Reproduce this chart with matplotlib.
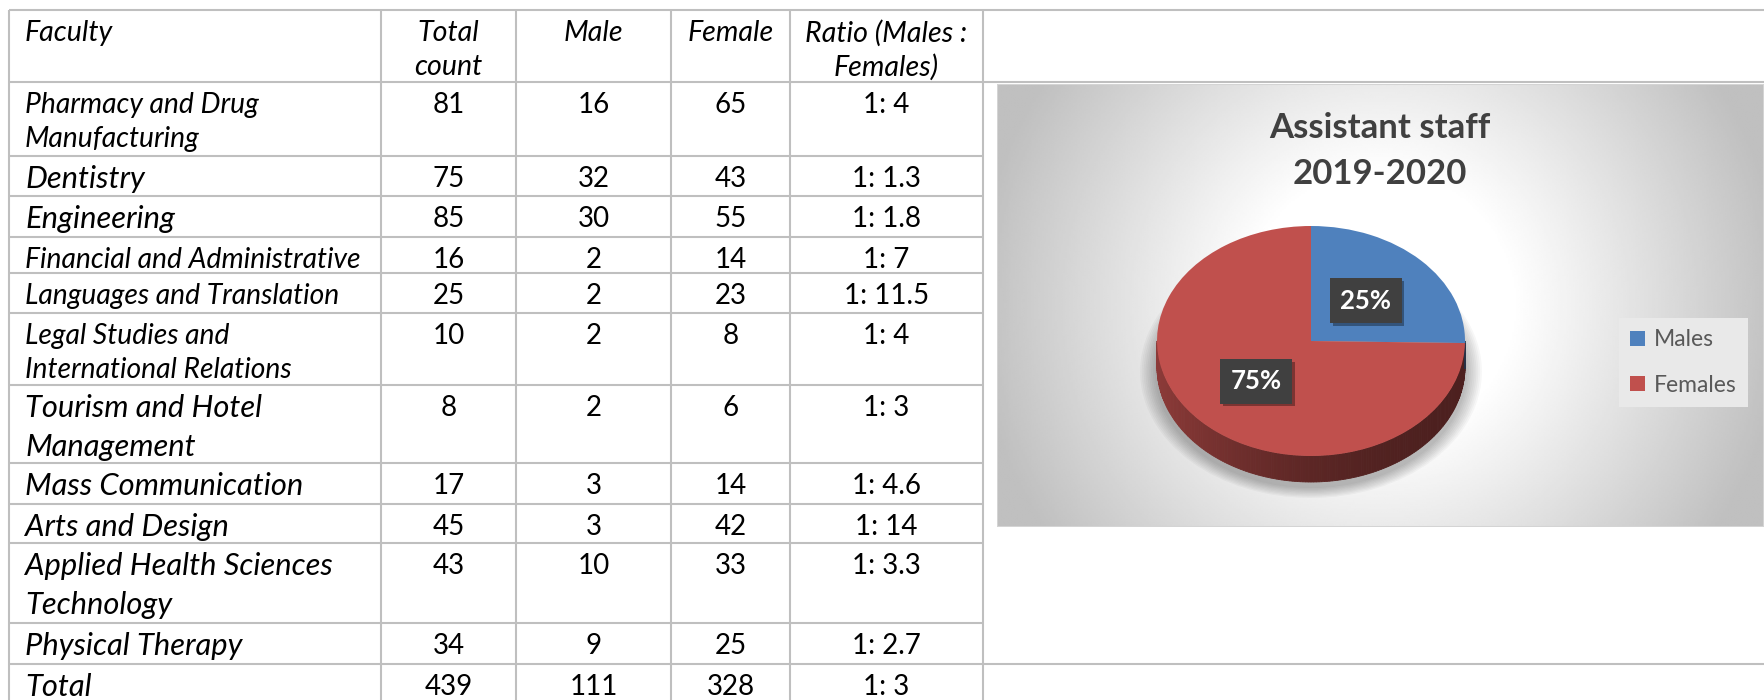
import matplotlib

matplotlib.use("Agg")
import matplotlib.patheffects as pe
import matplotlib.pyplot as plt
import numpy as np
from matplotlib.colors import to_rgb
from matplotlib.patches import Ellipse, Polygon, Rectangle

# table data
headers = ["Faculty", "Total\ncount", "Male", "Female", "Ratio (Males :\nFemales)"]
faculties = [
    "Pharmacy and Drug\nManufacturing",
    "Dentistry",
    "Engineering",
    "Financial and Administrative",
    "Languages and Translation",
    "Legal Studies and\nInternational Relations",
    "Tourism and Hotel\nManagement",
    "Mass Communication",
    "Arts and Design",
    "Applied Health Sciences\nTechnology",
    "Physical Therapy",
    "Total",
]
total_count = [81, 75, 85, 16, 25, 10, 8, 17, 45, 43, 34, 439]
male = [16, 32, 30, 2, 2, 2, 2, 3, 3, 10, 9, 111]
female = [65, 43, 55, 14, 23, 8, 6, 14, 42, 33, 25, 328]
ratio = ["1: 4", "1: 1.3", "1: 1.8", "1: 7", "1: 11.5", "1: 4", "1: 3",
         "1: 4.6", "1: 14", "1: 3.3", "1: 2.7", "1: 3"]

# pie data
pie_labels = ["Males", "Females"]
pie_values = [male[-1], female[-1]]
title_lines = ["Assistant staff", "2019-2020"]

W, H = 1764, 700
col_edges = [9, 381, 516, 671, 790, 983]
row_edges = [10, 82, 156, 196, 237, 273, 313, 385, 463, 504, 543, 623, 664, 706]
small, large = 20.3, 22.2
head_size, num_size = 20.6, 20
label_sizes = [small, large, large, small, small, small, large, large, large, large, large, large]
GRID = "#bfbfbf"
BLUE, RED = "#4f81bd", "#c0504d"

plt.rcParams["font.family"] = ["Lato", "DejaVu Sans"]

fig = plt.figure(figsize=(W / 100, H / 100), dpi=100)
ax = fig.add_axes([0, 0, 1, 1])
ax.set_xlim(0, W)
ax.set_ylim(H, 0)
ax.axis("off")

# grid
for y in row_edges[:-1]:
    right = W if y in (row_edges[0], row_edges[1], row_edges[-2]) else col_edges[-1]
    ax.hlines(y, col_edges[0], right, color=GRID, lw=1.5)
ax.vlines(col_edges, row_edges[0], H, color=GRID, lw=1.5)

centers = [(col_edges[i] + col_edges[i + 1]) / 2 for i in range(1, 5)]


def put_lines(x, top, text, size, spacing, ha="center", style="normal"):
    for i, line in enumerate(text.split("\n")):
        ax.text(x, top + 23 + i * spacing, line, ha=ha, va="center",
                fontsize=size, style=style, color="black")


put_lines(25, row_edges[0], headers[0], head_size, 34, ha="left", style="italic")
for x, head in zip(centers, headers[1:]):
    put_lines(x, row_edges[0], head, head_size, 34, style="italic")

for i, name in enumerate(faculties):
    top = row_edges[i + 1]
    spacing = 39 if label_sizes[i] == large else 33.5
    put_lines(25, top, name, label_sizes[i], spacing, ha="left", style="italic")
    for x, value in zip(centers, [total_count[i], male[i], female[i], ratio[i]]):
        put_lines(x, top, str(value), num_size, spacing)

# chart area with radial gradient
cx0, cy0, cx1, cy1 = 997, 84, W, 527
chart_ax = fig.add_axes([cx0 / W, 1 - cy1 / H, (cx1 - cx0) / W, (cy1 - cy0) / H], zorder=1)
gx = np.linspace(cx0, cx1, 400)
gy = np.linspace(cy0, cy1, 240)
X, Y = np.meshgrid(gx, gy)
r = np.hypot(X - 1380, Y - 305) / np.hypot(383, 222)
shade = 1 - 0.25 * np.clip((r - 0.3) / 0.62, 0, 1)
chart_ax.imshow(shade, extent=[cx0, cx1, cy1, cy0], cmap="gray", vmin=0, vmax=1,
                aspect="auto", interpolation="bilinear")
chart_ax.set_xlim(cx0, cx1)
chart_ax.set_ylim(cy1, cy0)
chart_ax.axis("off")
chart_ax.add_patch(Rectangle((cx0, cy0), cx1 - cx0, cy1 - cy0, fill=False, ec="#d4d4d4", lw=1.5))
for i, line in enumerate(title_lines):
    chart_ax.text(1380, 128 + i * 46, line, ha="center", va="center", fontsize=25,
                  fontweight="bold", color="#404040")

# 3d-looking pie
cx, cy, a, b, depth = 1311, 341, 154, 115, 26
L = 1.5
pax = fig.add_axes([(cx - a * L) / W, 1 - (cy + b * L) / H, 2 * a * L / W, 2 * b * L / H], zorder=2)
wedges, texts, autotexts = pax.pie(
    pie_values,
    colors=[BLUE, RED],
    startangle=90,
    counterclock=False,
    autopct="%1.0f%%",
    pctdistance=0.5,
    wedgeprops=dict(linewidth=0, zorder=3),
    textprops=dict(color="white", fontsize=18.5, fontweight="bold"),
)
pax.set_aspect("auto")
pax.set_xlim(-L, L)
pax.set_ylim(-L, L)
pax.axis("off")

d = depth / b
for k in range(9):
    grow = 0.11 - k * 0.012
    pax.add_patch(Ellipse((0, -d - 0.04), 2 * (1 + grow), 2 * (1 + grow * 0.9),
                          fc="black", alpha=0.03, lw=0, zorder=1))

angles = np.linspace(180, 360, 181)
for t0, t1 in zip(angles[:-1], angles[1:]):
    mid = (t0 + t1) / 2
    w = next(w for w in wedges if (mid - w.theta1) % 360 <= (w.theta2 - w.theta1))
    base = np.array(to_rgb(w.get_facecolor()))
    u = (np.cos(np.radians(mid)) + 1) / 2
    col = base * (0.40 + 0.33 * (1 - u) ** 2)
    c0, s0 = np.cos(np.radians(t0)), np.sin(np.radians(t0))
    c1, s1 = np.cos(np.radians(t1)), np.sin(np.radians(t1))
    pax.add_patch(Polygon([(c0, s0), (c1, s1), (c1, s1 - d), (c0, s0 - d)], closed=True,
                          fc=col, ec=col, lw=0.6, zorder=2))

for t in autotexts:
    t.set_bbox(dict(boxstyle="square,pad=0.4", fc="#404040", ec="none"))
    t.get_bbox_patch().set_path_effects(
        [pe.withSimplePatchShadow(offset=(2, -2), shadow_rgbFace="black", alpha=0.35)])
    t.set_zorder(5)

leg = pax.legend(wedges, pie_labels, loc="upper left", bbox_to_anchor=(1619, 318),
                 bbox_transform=ax.transData, fontsize=16.5, handlelength=0.65,
                 handleheight=0.65, handletextpad=0.35, labelspacing=1.05,
                 borderpad=0.5, borderaxespad=0, fancybox=False, framealpha=1)
leg.get_frame().set_facecolor("#e9e9e9")
leg.get_frame().set_edgecolor("none")
for t in leg.get_texts():
    t.set_color("#595959")

fig.savefig("out.png", dpi=100)
